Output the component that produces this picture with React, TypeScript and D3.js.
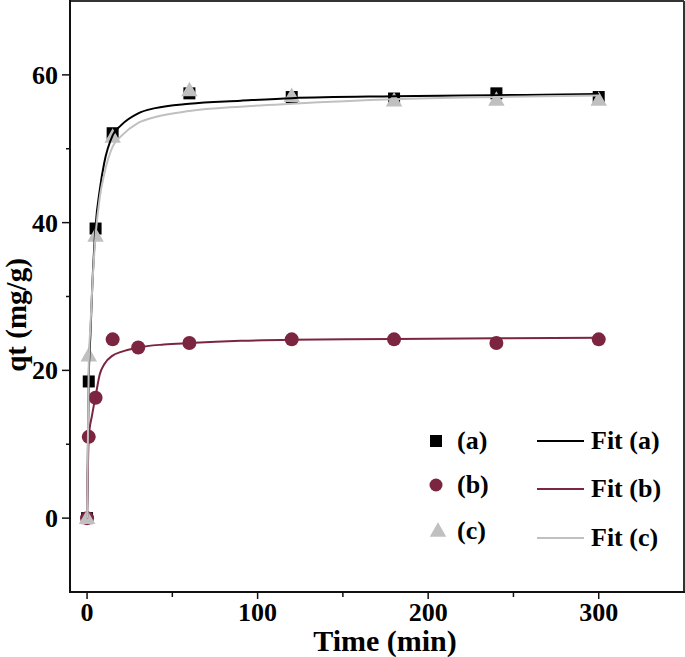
import React from "react";
import * as d3 from "d3";

// Experimental data (time in min, qt in mg/g)
const timeA = [0, 1, 5, 15, 60, 120, 180, 240, 300];
const qtA = [0, 18.5, 39.2, 52.1, 57.5, 57.0, 56.8, 57.5, 57.0];

const timeB = [0, 1, 5, 15, 30, 60, 120, 180, 240, 300];
const qtB = [0, 11.0, 16.3, 24.2, 23.1, 23.7, 24.2, 24.2, 23.7, 24.2];

const timeC = [0, 1, 5, 15, 60, 120, 180, 240, 300];
const qtC = [0, 22.0, 38.2, 51.6, 57.9, 57.1, 56.5, 56.6, 56.6];

// Fit curves
const fitTimeA = [0, 1, 2, 3, 5, 7.5, 10, 15, 20, 30, 40, 60, 90, 120, 180, 240, 300];
const fitQtA = [0, 19, 25, 31, 39.5, 44.5, 48, 51.8, 53.2, 54.8, 55.5, 56.1, 56.5, 56.85, 57.1, 57.25, 57.4];

const fitTimeB = [0, 1, 3, 5, 7.5, 10, 15, 20, 30, 45, 60, 90, 120, 180, 240, 300];
const fitQtB = [0, 11, 14, 16.5, 19.5, 20.8, 22, 22.5, 23.1, 23.5, 23.7, 24.0, 24.15, 24.25, 24.35, 24.4];

const fitTimeC = [0, 1, 2, 3, 5, 7.5, 10, 15, 20, 30, 40, 60, 90, 120, 180, 240, 300];
const fitQtC = [0, 21, 26, 31, 38.3, 43.5, 46.5, 50.3, 51.7, 53.5, 54.3, 55.1, 55.7, 56.1, 56.7, 57.0, 57.2];

const xMajorTicks = [0, 100, 200, 300];
const xMinorTicks = [50, 150, 250];
const yMajorTicks = [0, 20, 40, 60];
const yMinorTicks = [10, 30, 50];

const legendMarkers = ["(a)", "(b)", "(c)"];
const legendFits = ["Fit (a)", "Fit (b)", "Fit (c)"];

const MAROON = "#7c2541";
const GREY = "#c0c0c0";
const FONT = "'Liberation Serif', 'Times New Roman', serif";

export default function App() {
  const W = 685;
  const H = 657;
  const left = 70, right = 684, top = 1, bottom = 592;
  const x = d3.scaleLinear().domain([-10, 350]).range([left, right]);
  const y = d3.scaleLinear().domain([-10, 70]).range([bottom, top]);

  const line = d3
    .line<[number, number]>()
    .x((d) => x(d[0]))
    .y((d) => y(d[1]))
    .curve(d3.curveMonotoneX);

  const zip = (a: number[], b: number[]) => a.map((v, i) => [v, b[i]] as [number, number]);

  const sq = 12;
  const tri = (cx: number, cy: number) => {
    const w = 16.5, h = 14.5;
    return `M${cx},${cy - h * 0.6}L${cx + w / 2},${cy + h * 0.4}L${cx - w / 2},${cy + h * 0.4}Z`;
  };

  const symRows = [441, 485, 531];
  const fitRows = [441, 489, 538];
  const fitColors = ["#000", MAROON, GREY];

  return (
    <svg width={W} height={H} style={{ position: "absolute", left: 0, top: 0, background: "#fff" }}>
      <rect x={0} y={0} width={W} height={H} fill="#fff" />
      {/* frame */}
      <line x1={left} x2={right} y1={top} y2={top} stroke="#333" strokeWidth={2} />
      <line x1={right} x2={right} y1={top} y2={bottom} stroke="#333" strokeWidth={2} />
      <line x1={left} x2={left} y1={top - 1} y2={bottom + 1} stroke="#111" strokeWidth={2} />
      <line x1={left - 1} x2={right + 1} y1={bottom} y2={bottom} stroke="#111" strokeWidth={2} />

      {/* ticks */}
      {xMajorTicks.map((t) => (
        <g key={"xm" + t}>
          <line x1={x(t)} x2={x(t)} y1={bottom} y2={bottom + 7} stroke="#111" strokeWidth={1.5} />
          <text x={x(t)} y={621} textAnchor="middle" fontFamily={FONT} fontWeight="bold" fontSize={26}>
            {t}
          </text>
        </g>
      ))}
      {xMinorTicks.map((t) => (
        <line key={"xn" + t} x1={x(t)} x2={x(t)} y1={bottom} y2={bottom + 5} stroke="#111" strokeWidth={1.5} />
      ))}
      {yMajorTicks.map((t) => (
        <g key={"ym" + t}>
          <line x1={left - 8} x2={left} y1={y(t)} y2={y(t)} stroke="#111" strokeWidth={1.5} />
          <text x={58} y={y(t) + 9} textAnchor="end" fontFamily={FONT} fontWeight="bold" fontSize={26}>
            {t}
          </text>
        </g>
      ))}
      {yMinorTicks.map((t) => (
        <line key={"yn" + t} x1={left - 4} x2={left} y1={y(t)} y2={y(t)} stroke="#111" strokeWidth={1.5} />
      ))}

      {/* axis titles */}
      <text x={385} y={651} textAnchor="middle" fontFamily={FONT} fontWeight="bold" fontSize={30}>
        Time (min)
      </text>
      <text
        transform="translate(26,315) rotate(-90)"
        textAnchor="middle"
        fontFamily={FONT}
        fontWeight="bold"
        fontSize={29}
      >
        qt (mg/g)
      </text>

      {/* markers */}
      {zip(timeA, qtA).map((d, i) => (
        <rect key={"a" + i} x={x(d[0]) - sq / 2} y={y(d[1]) - sq / 2} width={sq} height={sq} fill="#000" />
      ))}
      {zip(timeB, qtB).map((d, i) => (
        <circle key={"b" + i} cx={x(d[0])} cy={y(d[1])} r={7} fill={MAROON} />
      ))}
      {zip(timeC, qtC).map((d, i) => (
        <path key={"c" + i} d={tri(x(d[0]), y(d[1]))} fill={GREY} />
      ))}

      {/* fit curves */}
      <path d={line(zip(fitTimeA, fitQtA)) || ""} fill="none" stroke="#000" strokeWidth={2} />
      <path d={line(zip(fitTimeB, fitQtB)) || ""} fill="none" stroke={MAROON} strokeWidth={2} />
      <path d={line(zip(fitTimeC, fitQtC)) || ""} fill="none" stroke={GREY} strokeWidth={2} />

      {/* legend */}
      <rect x={436 - 6} y={symRows[0] - 6} width={12} height={12} fill="#000" />
      <circle cx={436} cy={symRows[1]} r={6.5} fill={MAROON} />
      <path d={tri(438, symRows[2])} fill={GREY} />
      {legendMarkers.map((s, i) => (
        <text key={s} x={457} y={symRows[i] + 8} fontFamily={FONT} fontWeight="bold" fontSize={26}>
          {s}
        </text>
      ))}
      {legendFits.map((s, i) => (
        <g key={s}>
          <line x1={537} x2={584} y1={fitRows[i]} y2={fitRows[i]} stroke={fitColors[i]} strokeWidth={2} />
          <text x={591} y={fitRows[i] + 8} fontFamily={FONT} fontWeight="bold" fontSize={26}>
            {s}
          </text>
        </g>
      ))}
    </svg>
  );
}
